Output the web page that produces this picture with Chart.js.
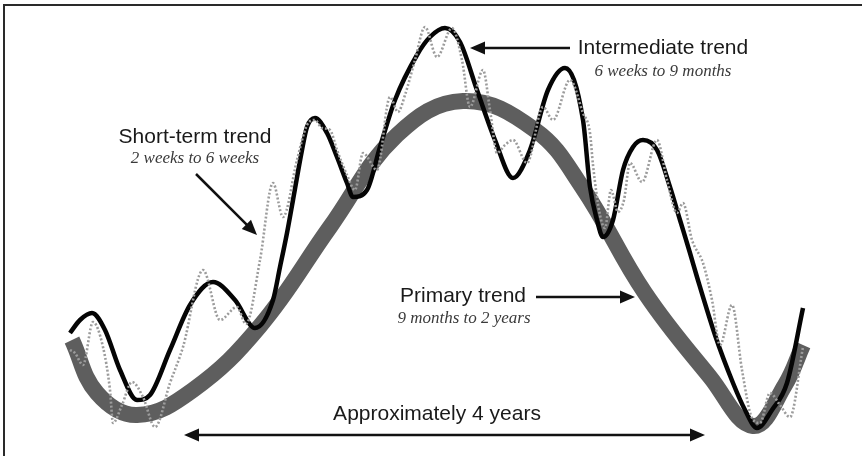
<!DOCTYPE html>
<html>
<head>
<meta charset="utf-8">
<script src="https://cdn.jsdelivr.net/npm/chart.js@4/dist/chart.umd.min.js"></script>
<style>
html,body{margin:0;padding:0;background:#fff;}
#wrap{width:862px;height:456px;position:relative;}
</style>
</head>
<body>
<div id="wrap"><canvas id="c" width="862" height="456"></canvas></div>
<script>
// Time axis (horizontal units) and level (vertical units; scale reversed)
const primaryX = [72, 97, 137, 193, 260, 330, 397, 463, 535, 582, 645, 710, 753, 785, 803];
const primaryY = [340, 393, 415, 390, 326, 227, 135, 101, 130, 187, 293, 377, 426, 385, 345];

const interX = [70, 80, 92, 105, 120, 137, 150, 170, 190, 213, 235, 255, 273, 280, 287, 293, 302, 307, 315, 327, 337, 347, 353, 367, 380, 395, 417, 430, 445, 460, 477, 495, 513, 530, 548, 565, 583, 590, 597, 603, 613, 623, 633, 643, 657, 670, 680, 690, 697, 715, 733, 745, 757, 772, 787, 803];
const interY = [333, 320, 313, 330, 370, 400, 395, 350, 305, 282, 300, 328, 300, 267, 233, 200, 150, 127, 118, 133, 157, 183, 197, 190, 147, 100, 55, 37, 28, 42, 90, 140, 178, 150, 90, 68, 120, 187, 220, 237, 220, 170, 147, 140, 150, 187, 220, 253, 277, 335, 383, 410, 428, 410, 383, 308];

const shortX = [70, 75, 83, 93, 103, 110, 113, 122, 132, 143, 155, 170, 183, 203, 220, 237, 246, 260, 273, 283, 297, 307, 315, 322, 330, 337, 347, 355, 363, 377, 390, 398, 405, 415, 425, 437, 452, 462, 470, 483, 490, 497, 505, 513, 527, 543, 553, 570, 583, 590, 593, 600, 605, 611, 618, 624, 630, 642, 657, 667, 677, 683, 692, 703, 712, 720, 732, 742, 752, 760, 770, 780, 790, 803];
const shortY = [350, 353, 365, 322, 347, 390, 423, 405, 382, 397, 427, 383, 347, 270, 320, 307, 324, 260, 183, 217, 160, 125, 120, 128, 130, 150, 175, 190, 153, 170, 97, 112, 95, 60, 27, 57, 28, 60, 107, 70, 110, 153, 145, 140, 163, 107, 120, 80, 113, 133, 165, 215, 228, 190, 212, 200, 163, 182, 140, 180, 213, 203, 240, 263, 300, 345, 305, 370, 418, 423, 393, 405, 417, 347];

// Annotation texts
const labelTexts = ["Intermediate trend", "6 weeks to 9 months", "Short-term trend", "2 weeks to 6 weeks", "Primary trend", "9 months to 2 years", "Approximately 4 years"];

const toPts = (xs, ys) => xs.map((x, i) => ({x: x, y: ys[i]}));

const SANS = '21px "Liberation Sans", Arial, sans-serif';
const SERIF = 'italic 17px "Liberation Serif", "Times New Roman", serif';
const annot = {
  texts: [
    {t: labelTexts[0], x: 663, y: 48, font: SANS, color: '#1a1a1a'},
    {t: labelTexts[1], x: 663, y: 72, font: SERIF, color: '#3a3a3a'},
    {t: labelTexts[2], x: 195, y: 137, font: SANS, color: '#1a1a1a'},
    {t: labelTexts[3], x: 195, y: 159, font: SERIF, color: '#3a3a3a'},
    {t: labelTexts[4], x: 463, y: 296, font: SANS, color: '#1a1a1a'},
    {t: labelTexts[5], x: 464, y: 319, font: SERIF, color: '#3a3a3a'},
    {t: labelTexts[6], x: 437, y: 414, font: SANS, color: '#1a1a1a'}
  ],
  arrows: [
    {x1: 570, y1: 48, x2: 470, y2: 48, both: false},
    {x1: 196, y1: 174, x2: 257, y2: 235, both: false},
    {x1: 536, y1: 297, x2: 635, y2: 297, both: false},
    {x1: 184, y1: 435, x2: 705, y2: 435, both: true}
  ]
};

function head(ctx, xf, yf, xt, yt) {
  const a = Math.atan2(yt - yf, xt - xf);
  const L = 15, W = 6.5;
  ctx.beginPath();
  ctx.moveTo(xt, yt);
  ctx.lineTo(xt - L * Math.cos(a) + W * Math.sin(a), yt - L * Math.sin(a) - W * Math.cos(a));
  ctx.lineTo(xt - L * Math.cos(a) - W * Math.sin(a), yt - L * Math.sin(a) + W * Math.cos(a));
  ctx.closePath();
  ctx.fill();
}

const annotPlugin = {
  id: 'annot',
  beforeDraw(chart) {
    const ctx = chart.ctx;
    ctx.save();
    ctx.fillStyle = '#fff';
    ctx.fillRect(0, 0, chart.width, chart.height);
    ctx.strokeStyle = '#2a2a2a';
    ctx.lineWidth = 2;
    ctx.beginPath();
    ctx.moveTo(4, chart.height);
    ctx.lineTo(4, 5);
    ctx.lineTo(chart.width, 5);
    ctx.stroke();
    ctx.restore();
  },
  afterDraw(chart) {
    const ctx = chart.ctx, xs = chart.scales.x, ys = chart.scales.y;
    ctx.save();
    ctx.textAlign = 'center';
    ctx.textBaseline = 'middle';
    annot.texts.forEach(o => {
      ctx.font = o.font;
      ctx.fillStyle = o.color;
      ctx.fillText(o.t, xs.getPixelForValue(o.x), ys.getPixelForValue(o.y));
    });
    ctx.strokeStyle = '#111';
    ctx.fillStyle = '#111';
    ctx.lineWidth = 2.5;
    annot.arrows.forEach(a => {
      const x1 = xs.getPixelForValue(a.x1), y1 = ys.getPixelForValue(a.y1);
      const x2 = xs.getPixelForValue(a.x2), y2 = ys.getPixelForValue(a.y2);
      const ang = Math.atan2(y2 - y1, x2 - x1);
      const sx = a.both ? x1 + 10 * Math.cos(ang) : x1, sy = a.both ? y1 + 10 * Math.sin(ang) : y1;
      ctx.beginPath();
      ctx.moveTo(sx, sy);
      ctx.lineTo(x2 - 10 * Math.cos(ang), y2 - 10 * Math.sin(ang));
      ctx.stroke();
      head(ctx, x1, y1, x2, y2);
      if (a.both) head(ctx, x2, y2, x1, y1);
    });
    ctx.restore();
  }
};

new Chart(document.getElementById('c'), {
  type: 'line',
  data: {
    datasets: [
      {label: 'Short-term trend', data: toPts(shortX, shortY), borderColor: '#9c9c9c', borderWidth: 2.6, borderDash: [2, 2], pointRadius: 0, cubicInterpolationMode: 'monotone', fill: false},
      {label: 'Intermediate trend', data: toPts(interX, interY), borderColor: '#050505', borderWidth: 4.5, pointRadius: 0, cubicInterpolationMode: 'monotone', fill: false, borderJoinStyle: 'round'},
      {label: 'Primary trend', data: toPts(primaryX, primaryY), borderColor: '#5e5e5e', borderWidth: 16, borderCapStyle: 'butt', pointRadius: 0, tension: 0.4, fill: false}
    ]
  },
  options: {
    responsive: false,
    animation: false,
    layout: {padding: 0},
    plugins: {legend: {display: false}, tooltip: {enabled: false}, title: {display: false}},
    scales: {
      x: {type: 'linear', min: 0, max: 862, display: false},
      y: {type: 'linear', min: 0, max: 456, reverse: true, display: false}
    },
    elements: {line: {borderJoinStyle: 'round'}}
  },
  plugins: [annotPlugin]
});
</script>
</body>
</html>
